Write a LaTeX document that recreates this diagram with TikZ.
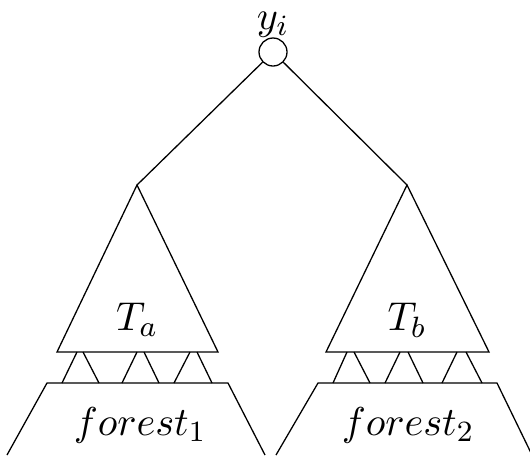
\documentclass[tikz,border=0pt]{standalone}
\begin{document}
\begin{tikzpicture}[x=0.272pt,y=-0.272pt,line width=0.35pt,
  lbl/.style={inner sep=0pt,font=\fontsize{11}{13}\selectfont}]
\useasboundingbox (0,0) rectangle (530,455);
\node[circle,draw,minimum size=28*0.272pt,inner sep=0pt] (root) at (273,52) {};
\node[lbl,anchor=south] (yl) at (273,38) {$y_i$};
% apexes
\coordinate (la) at (137,185);
\coordinate (ra) at (407,185);
\draw (root) -- (la);
\draw (root) -- (ra);
% left triangle
\coordinate (lb1) at (57,352);
\coordinate (lb2) at (218,352);
\draw (lb1) -- (la) -- (lb2) -- cycle;
\node[lbl] (Ta) at (137,320) {$T_a$};
% right triangle
\coordinate (rb1) at (326,352);
\coordinate (rb2) at (489,352);
\draw (rb1) -- (ra) -- (rb2) -- cycle;
\node[lbl] (Tb) at (407,320) {$T_b$};
% left connectors
\foreach \a/\b/\c/\d in {77/62/83/99, 137/122/144/159, 190/174/197/212}{
  \draw (\a,352) -- (\b,383);
  \draw (\c,352) -- (\d,383);
}
% right connectors
\foreach \a/\b/\c/\d in {347/333/354/370, 400/385/408/423, 457/442/466/482}{
  \draw (\a,352) -- (\b,383);
  \draw (\c,352) -- (\d,383);
}
% forests
\coordinate (lf1) at (47,383);
\coordinate (lf2) at (228,383);
\draw (7,455) -- (lf1) -- (lf2) -- (265,455);
\node[lbl] (f1) at (140,425) {$forest_1$};
\coordinate (rf1) at (318,383);
\coordinate (rf2) at (497,383);
\draw (276,455) -- (rf1) -- (rf2) -- (532,455);
\node[lbl] (f2) at (408,425) {$forest_2$};
\end{tikzpicture}
\end{document}
